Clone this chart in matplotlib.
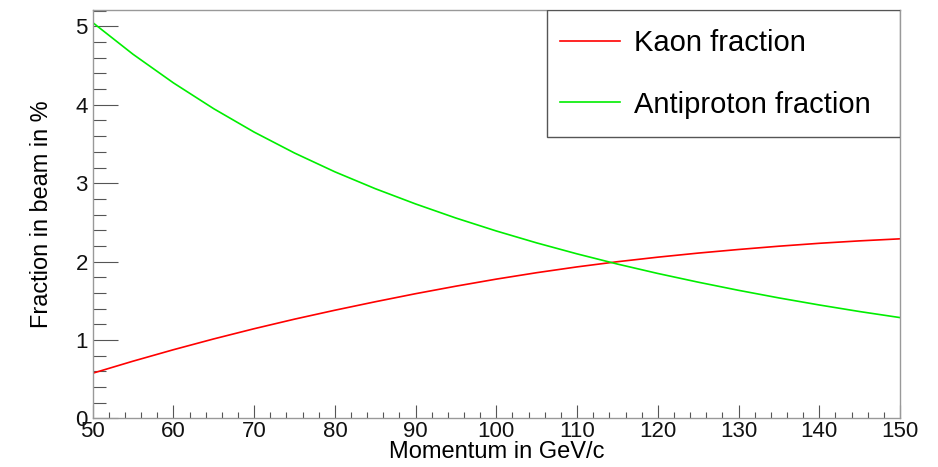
#!/usr/bin/env python3

import matplotlib
matplotlib.use('Agg')
import matplotlib.pyplot as plt
from matplotlib.patches import Rectangle
from matplotlib.ticker import MultipleLocator

# momentum in GeV/c
momentum = [50, 55, 60, 65, 70, 75, 80, 85, 90, 95, 100,
            105, 110, 115, 120, 125, 130, 135, 140, 145, 150]

# fractions in beam (%)
kaon = [0.575, 0.729, 0.875, 1.013, 1.143, 1.265, 1.379, 1.487, 1.59, 1.686, 1.776,
        1.858, 1.932, 1.998, 2.056, 2.108, 2.154, 2.196, 2.233, 2.264, 2.29]
antiproton = [5.05, 4.645, 4.28, 3.95, 3.652, 3.385, 3.145, 2.93, 2.735, 2.555, 2.39,
              2.238, 2.098, 1.968, 1.848, 1.737, 1.633, 1.536, 1.446, 1.362, 1.285]

labels = ['Kaon fraction', 'Antiproton fraction']


def plot_fractions(momentum, kaon, antiproton):
    plt.rcParams['font.family'] = ['Liberation Sans', 'DejaVu Sans']

    fig = plt.figure(figsize=(9.38, 4.67), dpi=100)
    ax = fig.add_axes([0.0988, 0.1043, 0.8607, 0.8743])

    ax.plot(momentum, kaon, color='#ff0000', lw=1.2, label=labels[0])
    ax.plot(momentum, antiproton, color='#00ee00', lw=1.2, label=labels[1])

    ax.set_xlim(50, 150)
    ax.set_ylim(0, 5.21)
    ax.xaxis.set_major_locator(MultipleLocator(10))
    ax.xaxis.set_minor_locator(MultipleLocator(2))
    ax.yaxis.set_major_locator(MultipleLocator(1))
    ax.yaxis.set_minor_locator(MultipleLocator(0.2))

    for s in ax.spines.values():
        s.set_color('#999999')
        s.set_linewidth(1.0)

    ax.tick_params(axis='both', which='both', direction='in', color='#555555',
                   width=0.8, labelsize=16, labelcolor='#111111')
    ax.tick_params(axis='y', which='major', length=17.8, pad=3.5)
    ax.tick_params(axis='y', which='minor', length=9)
    ax.tick_params(axis='x', which='major', length=9.1, pad=2)
    ax.tick_params(axis='x', which='minor', length=4.5)

    ax.set_xlabel('Momentum in GeV/c', fontsize=17, labelpad=-1)
    ax.set_ylabel('Fraction in beam in %', fontsize=16.9, labelpad=16)

    # legend box in the top right corner
    ax.add_patch(Rectangle((0.5624, 0.6897), 0.4376, 0.3103,
                           transform=ax.transAxes, facecolor='white',
                           edgecolor='#555555', lw=1.0, zorder=4))
    ax.legend(loc='center left', bbox_to_anchor=(0.5788, 0.8435),
              frameon=False, fontsize=21, handlelength=2.05,
              handletextpad=0.5, labelspacing=1.15, borderpad=0,
              borderaxespad=0).set_zorder(5)

    fig.savefig('out.png', dpi=100, facecolor='white')


if __name__ == '__main__':
    plot_fractions(momentum, kaon, antiproton)
